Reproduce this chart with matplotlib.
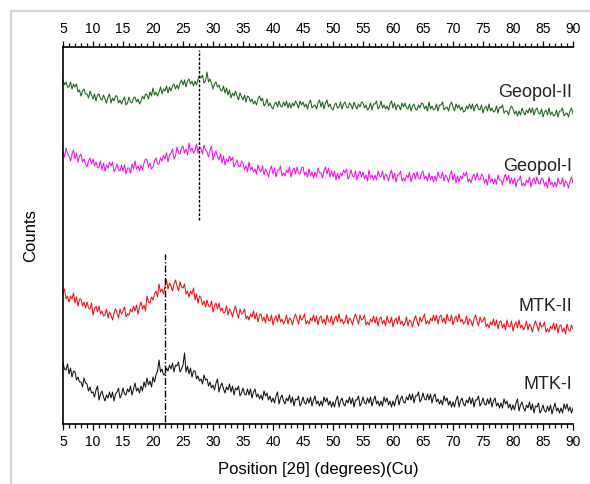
import matplotlib.pyplot as plt
from matplotlib.lines import Line2D
from matplotlib.ticker import MultipleLocator
import numpy as np

plt.rcParams['font.family'] = ['Liberation Sans', 'DejaVu Sans']

# 2theta grid, 0.25 degree step (5 .. 90)
two_theta = np.arange(5.0, 90.01, 0.25)

# counts (arbitrary offset units), four per degree
geopol_2 = [
    344, 339, 342, 337, 337, 342, 335, 340, 337, 340, 332, 334, 328, 333, 335, 330,
    330, 326, 333, 329, 325, 330, 323, 329, 330, 325, 324, 329, 325, 321, 327, 330,
    321, 326, 323, 328, 328, 321, 324, 320, 324, 327, 319, 321, 327, 322, 321, 326,
    327, 322, 325, 320, 323, 328, 325, 330, 329, 325, 332, 328, 336, 329, 332, 328,
    332, 337, 330, 335, 333, 338, 331, 337, 333, 338, 340, 335, 339, 335, 341, 344,
    339, 344, 337, 343, 345, 340, 343, 338, 343, 339, 345, 348, 346, 349, 341, 343,
    352, 342, 345, 341, 335, 340, 342, 337, 339, 334, 333, 338, 331, 336, 329, 334,
    326, 331, 328, 333, 328, 324, 331, 327, 324, 329, 322, 328, 327, 322, 325, 320,
    323, 319, 325, 328, 323, 326, 318, 320, 325, 318, 321, 317, 315, 320, 322, 317,
    323, 318, 317, 322, 318, 323, 316, 321, 316, 321, 318, 323, 320, 316, 323, 319,
    322, 317, 320, 315, 321, 324, 316, 318, 319, 315, 321, 324, 317, 322, 315, 321,
    324, 317, 320, 316, 314, 319, 321, 316, 317, 322, 315, 320, 322, 317, 316, 321,
    319, 315, 322, 318, 315, 320, 317, 322, 321, 316, 319, 314, 316, 321, 314, 320,
    320, 323, 315, 317, 323, 316, 319, 315, 318, 314, 320, 323, 316, 321, 314, 319,
    318, 314, 321, 317, 321, 316, 315, 320, 313, 318, 320, 315, 314, 319, 316, 321,
    320, 315, 318, 313, 322, 315, 318, 314, 315, 320, 313, 319, 319, 322, 314, 316,
    317, 313, 319, 322, 317, 313, 320, 316, 319, 314, 317, 312, 313, 318, 315, 320,
    315, 320, 313, 318, 320, 315, 314, 319, 311, 316, 318, 313, 320, 313, 316, 312,
    313, 318, 311, 317, 316, 319, 311, 313, 313, 309, 315, 318, 315, 310, 313, 308,
    313, 309, 316, 312, 309, 314, 311, 316, 311, 316, 309, 314, 316, 311, 310, 315,
    307, 312, 314, 309, 316, 309, 312, 308, 309, 314, 307, 313, 313, 316, 308, 310,
    311, 307, 313, 316,
    310,
]

geopol_1 = [
    272, 267, 276, 271, 268, 263, 270, 274, 265, 271, 262, 268, 270, 262, 265, 260,
    257, 263, 266, 260, 265, 258, 262, 256, 257, 263, 254, 261, 253, 259, 256, 262,
    258, 262, 252, 255, 260, 254, 253, 259, 253, 259, 250, 256, 256, 251, 260, 255,
    263, 255, 258, 253, 259, 254, 261, 265, 264, 257, 261, 255, 257, 263, 266, 260,
    260, 266, 263, 269, 265, 271, 262, 269, 271, 275, 265, 268, 277, 271, 270, 276,
    278, 271, 275, 269, 281, 273, 276, 271, 274, 280, 271, 277, 275, 270, 279, 274,
    272, 267, 274, 278, 264, 270, 273, 267, 264, 270, 261, 268, 259, 265, 262, 268,
    263, 267, 257, 260, 264, 258, 257, 263, 261, 254, 258, 252, 262, 254, 257, 252,
    255, 250, 259, 254, 252, 258, 249, 255, 252, 247, 254, 258, 250, 256, 247, 254,
    254, 258, 248, 251, 248, 254, 251, 257, 247, 253, 256, 250, 257, 251, 250, 256,
    257, 249, 252, 247, 255, 248, 252, 246, 252, 247, 256, 251, 251, 246, 253, 257,
    250, 256, 247, 253, 247, 253, 244, 251, 245, 251, 248, 254, 251, 255, 245, 248,
    254, 248, 247, 253, 244, 250, 253, 247, 252, 245, 249, 243, 254, 246, 249, 244,
    249, 244, 253, 248, 247, 253, 244, 250, 248, 243, 250, 254, 245, 251, 242, 249,
    249, 253, 243, 246, 243, 249, 246, 252, 242, 248, 251, 245, 252, 246, 245, 251,
    253, 245, 248, 243, 251, 244, 248, 242, 248, 243, 252, 247, 246, 252, 243, 249,
    247, 242, 249, 253, 244, 250, 241, 248, 242, 248, 245, 251, 248, 252, 242, 245,
    241, 247, 250, 244, 251, 245, 244, 250, 248, 241, 245, 239, 250, 242, 245, 240,
    245, 240, 249, 244, 244, 239, 246, 250, 243, 249, 240, 246, 240, 246, 237, 244,
    244, 248, 238, 241, 238, 244, 241, 247, 237, 243, 246, 240, 247, 241, 240, 246,
    245, 238, 242, 236, 247, 239, 242, 237, 242, 237, 246, 241, 240, 246, 237, 243,
    241, 236, 243, 247,
    241,
]

mtk_2 = [
    131, 135, 125, 128, 122, 128, 125, 131, 121, 127, 118, 125, 125, 118, 122, 116,
    122, 116, 115, 121, 109, 115, 118, 112, 118, 110, 113, 108, 109, 115, 106, 112,
    109, 104, 111, 115, 111, 106, 115, 110, 113, 117, 107, 110, 109, 115, 112, 118,
    113, 119, 110, 117, 122, 115, 119, 113, 128, 122, 121, 127, 124, 130, 133, 127,
    140, 132, 135, 130, 138, 144, 135, 141, 138, 133, 140, 144, 138, 133, 142, 137,
    136, 140, 130, 133, 127, 133, 130, 136, 124, 130, 121, 128, 126, 119, 123, 117,
    124, 118, 117, 123, 112, 118, 121, 115, 121, 113, 116, 111, 112, 118, 109, 115,
    112, 107, 114, 118, 111, 106, 115, 110, 111, 115, 105, 108, 104, 110, 107, 113,
    105, 111, 102, 109, 110, 103, 107, 101, 110, 104, 103, 109, 99, 105, 108, 102,
    110, 102, 105, 100, 103, 109, 100, 106, 104, 99, 106, 110, 105, 100, 109, 104,
    106, 110, 100, 103, 100, 106, 103, 109, 102, 108, 99, 106, 108, 101, 105, 99,
    109, 103, 102, 108, 99, 105, 108, 102, 110, 102, 105, 100, 103, 109, 100, 106,
    104, 99, 106, 110, 105, 100, 109, 104, 105, 109, 99, 102, 99, 105, 102, 108,
    101, 107, 98, 105, 107, 100, 104, 98, 108, 102, 101, 107, 97, 103, 106, 100,
    108, 100, 103, 98, 101, 107, 98, 104, 102, 97, 104, 108, 103, 98, 107, 102,
    106, 110, 100, 103, 100, 106, 103, 109, 103, 109, 100, 107, 109, 102, 106, 100,
    110, 104, 103, 109, 99, 105, 108, 102, 110, 102, 105, 100, 102, 108, 99, 105,
    103, 98, 105, 109, 103, 98, 107, 102, 103, 107, 97, 100, 96, 102, 99, 105,
    98, 104, 95, 102, 103, 96, 100, 94, 104, 98, 97, 103, 93, 99, 102, 96,
    104, 96, 99, 94, 97, 103, 94, 100, 97, 92, 99, 103, 98, 93, 102, 97,
    98, 102, 92, 95, 92, 98, 95, 101, 94, 100, 91, 98, 99, 92, 96, 90,
    100, 94, 93, 99,
    95,
]

mtk_1 = [
    61, 55, 54, 60, 50, 56, 47, 53, 52, 44, 47, 42, 42, 37, 46, 41,
    40, 33, 37, 31, 32, 27, 34, 38, 24, 30, 33, 27, 23, 29, 26, 32,
    26, 32, 23, 30, 32, 36, 26, 29, 36, 30, 29, 35, 32, 38, 29, 35,
    41, 33, 36, 31, 38, 33, 42, 37, 46, 39, 43, 37, 47, 42, 49, 53,
    64, 52, 55, 49, 50, 56, 53, 59, 55, 61, 52, 59, 58, 62, 52, 55,
    59, 71, 52, 58, 50, 56, 47, 53, 53, 45, 48, 43, 45, 40, 49, 44,
    45, 38, 42, 36, 39, 34, 41, 45, 32, 38, 41, 35, 31, 37, 34, 40,
    32, 38, 29, 36, 34, 38, 28, 31, 36, 30, 29, 35, 29, 35, 26, 32,
    35, 27, 30, 25, 29, 24, 33, 28, 31, 24, 28, 22, 26, 21, 28, 32,
    20, 26, 29, 23, 20, 26, 23, 29, 21, 27, 18, 25, 24, 28, 18, 21,
    27, 21, 20, 26, 21, 27, 18, 24, 28, 20, 23, 18, 23, 18, 27, 22,
    26, 19, 23, 17, 22, 17, 24, 28, 17, 23, 26, 20, 18, 24, 21, 27,
    20, 26, 17, 24, 24, 28, 18, 21, 27, 21, 20, 26, 21, 27, 18, 24,
    28, 20, 23, 18, 23, 18, 27, 22, 26, 19, 23, 17, 23, 18, 25, 29,
    19, 25, 28, 22, 21, 27, 24, 30, 24, 30, 21, 28, 28, 32, 22, 25,
    31, 25, 24, 30, 24, 30, 21, 27, 30, 22, 25, 20, 24, 19, 28, 23,
    26, 19, 23, 17, 22, 17, 24, 28, 17, 23, 26, 20, 18, 24, 21, 27,
    20, 26, 17, 24, 24, 28, 18, 21, 26, 20, 19, 25, 20, 26, 17, 23,
    26, 18, 21, 16, 21, 16, 25, 20, 23, 16, 20, 14, 19, 14, 21, 25,
    13, 19, 22, 16, 13, 19, 16, 22, 14, 20, 11, 18, 17, 21, 11, 14,
    19, 13, 12, 18, 13, 19, 10, 16, 21, 13, 16, 11, 16, 11, 20, 15,
    20, 13, 17, 11,
    16,
]

names = ['Geopol-II', 'Geopol-I', 'MTK-II', 'MTK-I']
series = [geopol_2, geopol_1, mtk_2, mtk_1]
colors = ['#1a621a', '#f010f0', '#f01010', '#111111']
label_y = [331, 257, 117, 39]

fig = plt.figure(figsize=(5.9, 4.84), dpi=100)
ax = fig.add_axes([0.1068, 0.124, 0.8644, 0.7789])

for ys, c in zip(series, colors):
    ax.plot(two_theta, ys, color=c, lw=0.75)

for n, ly in zip(names, label_y):
    ax.text(89.8, ly, n, ha='right', va='center', fontsize=13, color='#222222')

# reference lines
ax.plot([27.6, 27.6], [204, 374], color='black', lw=1.0, ls=(0, (2, 1.2)))
ax.plot([22.0, 22.0], [2, 170], color='black', lw=1.0, ls=(0, (5, 1.5, 1, 1.5)))

ax.set_xlim(5, 90)
ax.set_ylim(0, 377)
ax.xaxis.set_major_locator(MultipleLocator(5))
ax.xaxis.set_minor_locator(MultipleLocator(1))
ax.set_yticks([])
ax.spines['right'].set_visible(False)
for s in ['left', 'top', 'bottom']:
    ax.spines[s].set_linewidth(1.2)
ax.tick_params(axis='x', which='both', top=True, labeltop=True, direction='out',
               width=0.9, labelsize=10, pad=3.5)
ax.tick_params(axis='x', which='major', length=4.5)
ax.tick_params(axis='x', which='minor', length=2.6)

ax.set_xlabel('Position [2θ] (degrees)(Cu)', fontsize=12, labelpad=9)
ax.set_ylabel('Counts', fontsize=12, labelpad=18)

# light frame of the original figure
fig.add_artist(Line2D([11 / 590, 1], [1 - 11 / 484, 1 - 11 / 484], color='#d4d4d4', lw=1.6))
fig.add_artist(Line2D([11 / 590, 11 / 590], [0, 1 - 11 / 484], color='#d4d4d4', lw=1.6))

fig.savefig('out.png', dpi=100)
